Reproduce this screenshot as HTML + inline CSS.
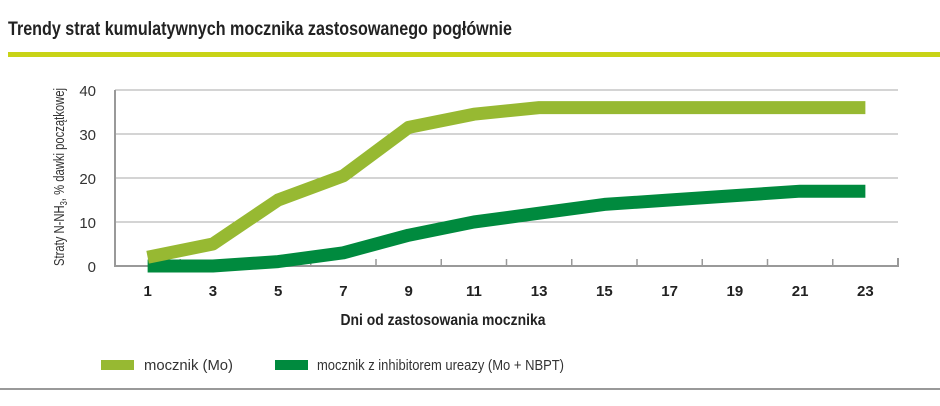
<!DOCTYPE html>
<html><head><meta charset="utf-8"><style>
html,body{margin:0;padding:0;background:#fff}
svg{display:block;font-family:"Liberation Sans",sans-serif}
</style></head><body>
<svg width="940" height="406" viewBox="0 0 940 406">
<text x="8" y="35" font-size="19" font-weight="bold" fill="#222" textLength="504" lengthAdjust="spacingAndGlyphs">Trendy strat kumulatywnych mocznika zastosowanego pogłównie</text>
<rect x="8" y="52" width="932" height="5" fill="#c8d316"/>
<g id="grid"></g>
<g id="yt"></g>
<g id="xt"></g>
<g id="series"></g>
<text transform="translate(64,177) rotate(-90)" text-anchor="middle" font-size="15" fill="#333" textLength="178" lengthAdjust="spacingAndGlyphs">Straty N-NH<tspan font-size="10" dy="3">3</tspan><tspan dy="-3">, % dawki początkowej</tspan></text>
<text x="443" y="325" text-anchor="middle" font-size="16" font-weight="bold" fill="#222" textLength="205" lengthAdjust="spacingAndGlyphs">Dni od zastosowania mocznika</text>
<g>
<rect x="101" y="360" width="33" height="10" fill="#97b932"/>
<text x="144" y="370" font-size="15" fill="#333" textLength="89" lengthAdjust="spacingAndGlyphs">mocznik (Mo)</text>
<rect x="275" y="360" width="33" height="10" fill="#008a3e"/>
<text x="317" y="370" font-size="15" fill="#333" textLength="247" lengthAdjust="spacingAndGlyphs">mocznik z inhibitorem ureazy (Mo + NBPT)</text>
</g>
<rect x="0" y="388" width="940" height="2" fill="#999"/>
</svg>
<script>
const days=[1,3,5,7,9,11,13,15,17,19,21,23];
const moValues=[2,5,15,20.5,31.5,34.5,36,36,36,36,36,36];
const nbptValues=[0,0,1,3,7,10,12,14,15,16,17,17];
const yTicks=[0,10,20,30,40];
const NS="http://www.w3.org/2000/svg";
const X0=115,X1=898,Y0=266,Y1=90;
const x=d=>X0+d*(X1-X0)/24;
const y=v=>Y0-v*(Y0-Y1)/40;
function mk(t,a,p){const e=document.createElementNS(NS,t);for(const k in a)e.setAttribute(k,a[k]);p.appendChild(e);return e;}
const grid=document.getElementById('grid');
yTicks.forEach(v=>{
  if(v>0){const l=mk('line',{x1:X0,x2:X1,y1:y(v),y2:y(v),stroke:'#aaa','stroke-width':1},grid);
  
  }
  const t=mk('text',{x:96,y:y(v)+6,'text-anchor':'end','font-size':15,fill:'#333'},document.getElementById('yt'));
  t.textContent=v;
  
  
});
const ax=mk('path',{d:`M${X0} ${Y1}V${Y0}H${X1}V${Y0-8}`,fill:'none',stroke:'#999','stroke-width':2},grid);


for(let d=2;d<24;d+=2){const tk=mk('line',{x1:x(d),x2:x(d),y1:Y0,y2:Y0-7,stroke:'#999','stroke-width':1.5},grid);

}
days.forEach(d=>{const t=mk('text',{x:x(d),y:296,'text-anchor':'middle','font-size':15,'font-weight':'bold',fill:'#222'},document.getElementById('xt'));
t.textContent=d;

});
function line(vals,col,name){
  const p=mk('polyline',{points:days.map((d,i)=>x(d)+','+y(vals[i])).join(' '),fill:'none',stroke:col,'stroke-width':13,'stroke-linejoin':'round','stroke-linecap':'butt'},document.getElementById('series'));
  
  
}
line(nbptValues,'#008a3e','line-mo-nbpt');
line(moValues,'#97b932','line-mo');
</script>
</body></html>
